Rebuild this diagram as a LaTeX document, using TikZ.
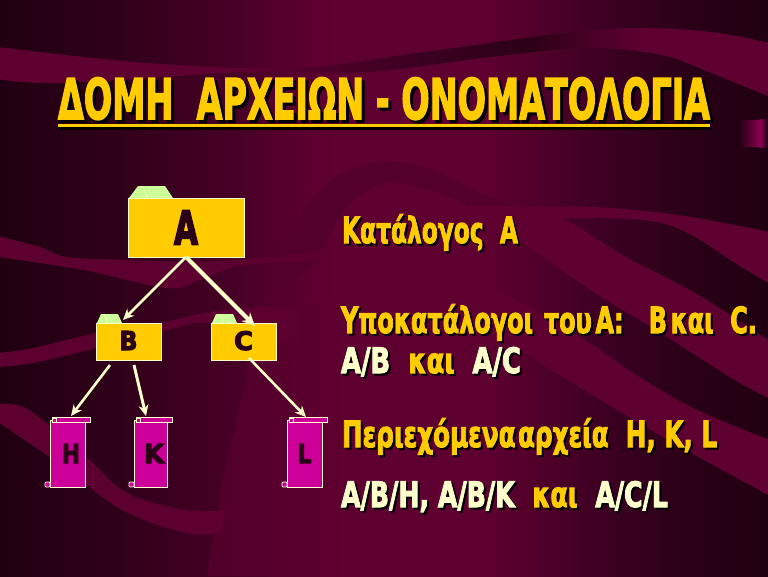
\documentclass[tikz,border=0pt]{standalone}
\usepackage{fontspec}
\usepackage{graphicx}
\usetikzlibrary{arrows.meta,calc}
\newfontfamily\hf[BoldFeatures={FakeBold=3}]{DejaVu Sans}
\newfontfamily\lf[BoldFeatures={FakeBold=4}]{DejaVu Sans}
\definecolor{bga}{HTML}{200010}
\definecolor{bgb}{HTML}{30001A}
\definecolor{bgc}{HTML}{480026}
\definecolor{bgd}{HTML}{5C002F}
\definecolor{bge}{HTML}{5E0030}
\definecolor{bgf}{HTML}{52002A}
\definecolor{bgg}{HTML}{380020}
\definecolor{bgh}{HTML}{280015}
\definecolor{bgi}{HTML}{2C0016}
\definecolor{bgj}{HTML}{4A0026}
\definecolor{arcc}{HTML}{54002C}
\definecolor{ytext}{HTML}{FFCC00}
\definecolor{cream}{HTML}{FFFFCC}
\definecolor{tabg}{HTML}{CCFF99}
\definecolor{scrollc}{HTML}{CC0099}
\definecolor{inkc}{HTML}{2A0016}
\definecolor{patch}{HTML}{8A0050}
\pgfdeclarehorizontalshading{bgshade}{100bp}{color(0bp)=(bga); color(25bp)=(bga); color(32.8bp)=(bgb); color(40.6bp)=(bgc); color(45.2bp)=(bgd); color(47.1bp)=(bge); color(56.5bp)=(bge); color(59.5bp)=(bgf); color(65.4bp)=(bgg); color(70.6bp)=(bgh); color(75bp)=(bga); color(100bp)=(bga)}
\pgfdeclarehorizontalshading{topband}{100bp}{color(0bp)=(bge); color(41.3bp)=(bge); color(47.1bp)=(bgj); color(53.6bp)=(bgg); color(59.5bp)=(bgi); color(63.4bp)=(bgc); color(66.7bp)=(bge); color(100bp)=(bge)}
\newcommand\Wh[1]{{\color{cream}#1}}
\newcommand\sht[3]{\rlap{\raisebox{-#2}{\kern#2\resizebox{#1}{\height}{\color{black}\let\Wh\relax\hf\bfseries #3}}}\resizebox{#1}{\height}{\hf\bfseries #3}}
\newcommand\lett[3]{\resizebox{#1}{#2}{\lf\bfseries #3}}
\tikzset{
  txt/.style={anchor=base west,inner sep=0pt,outer sep=0pt,text=ytext,font=\fontsize{36}{36}\selectfont},
  folder/.style={draw=cream,fill=ytext,line width=1pt,inner sep=0pt,outer sep=0pt,text=inkc},
  scrollbody/.style={draw=cream,fill=scrollc,line width=1pt,inner sep=0pt,outer sep=0pt,minimum height=67pt,text=inkc},
  scrollpart/.style={draw=cream,fill=scrollc,line width=.8pt},
  tabshape/.style={fill=tabg},
  tabline/.style={draw=cream,line width=.6pt},
  conn/.style={draw=cream,-{Stealth[length=11pt,width=10pt]},line width=2.6pt},
  band/.style={fill=bgd},
}
\newcommand\scrolldeco[1]{%
  \draw[scrollpart] ([shift={(2,-3)}]#1.north west) rectangle ([shift={(5,2)}]#1.north east);
  \draw[scrollpart] ([shift={(2,-2)}]#1.north west) rectangle ([shift={(6,2)}]#1.north west);
  \draw[scrollpart,rounded corners=1pt] ([shift={(-5,-5)}]#1.south west) rectangle (#1.south west);
}
\begin{document}
\begin{tikzpicture}[x=1pt,y=-1pt]
\useasboundingbox (0,0) rectangle (768,576);
\shade[shading=bgshade] (0,0) rectangle (768,576);
% light swoosh
\shade[left color=bgc!60!bgd,right color=bge] (207,576) -- (222,480) -- (247,377) -- (263,307) -- (345,300) -- (345,576) -- cycle;
% arc
\fill[arcc] plot[smooth,tension=.6] coordinates {(263,307)(280,250)(323,187)(373,163)(423,167)(480,193)(530,212)(561,218)} -- plot[smooth,tension=.6] coordinates {(473,210)(440,193)(387,183)(347,207)(317,260)} -- cycle;
% top band
\begin{scope}
\clip plot[smooth,tension=.6] coordinates {(-2,47)(147,63)(294,68)(417,53)(564,33)(637,28)(711,32)(770,43)} -- plot[smooth,tension=.6] coordinates {(770,97)(711,73)(662,55)(588,48)(490,57)(368,72)(245,72)(64,83)(-2,79)} -- cycle;
\shade[shading=topband] (0,0) rectangle (768,576);
\end{scope}
% left bands
\fill[band] plot[smooth,tension=.6] coordinates {(-2,236)(40,247)(67,257)(128,260)(200,262)(260,258)(330,250)} -- plot[smooth,tension=.6] coordinates {(330,262)(244,265)(200,280)(167,288)(83,270)(-2,257)} -- cycle;
\fill[band] plot[smooth,tension=.6] coordinates {(-2,353)(33,348)(97,333)(160,323)(210,312)(263,307)(300,312)} -- plot[smooth,tension=.6] coordinates {(300,346)(277,340)(210,323)(167,330)(97,348)(33,363)(-2,367)} -- cycle;
\fill[band] plot[smooth,tension=.6] coordinates {(-2,404)(29,410)(86,457)(127,493)(186,510)(225,510)} -- plot[smooth,tension=.6] coordinates {(222,532)(186,533)(122,510)(64,467)(-2,422)} -- cycle;
% right bands
\fill[bge] plot[smooth,tension=.6] coordinates {(470,205)(528,207)(595,207)(678,215)(770,232)} -- plot[smooth,tension=.6] coordinates {(770,284)(735,263)(695,237)(661,223)(611,218)(561,218)(470,215)} -- cycle;
\fill[bge] plot[smooth,tension=.6] coordinates {(470,205)(528,212)(561,218)(628,258)(695,293)(770,341)} -- plot[smooth,tension=.6] coordinates {(770,399)(728,376)(661,333)(595,293)(528,247)(470,215)} -- cycle;
\fill[bge] plot[smooth,tension=.6] coordinates {(480,280)(560,325)(600,350)(638,376)(695,409)(770,440)} -- plot[smooth,tension=.6] coordinates {(770,496)(661,436)(561,376)(528,355)(480,325)} -- cycle;
% right-edge patch
\shade[left color=bga,right color=patch] (738,120) rectangle (760,146);
\shade[left color=patch,right color=bgh] (760,119) rectangle (767,147);
% title
\node[txt,font=\fontsize{56}{56}\selectfont] (title) at (58,119) {\sht{652pt}{3pt}{ΔΟΜΗ~~ΑΡΧΕΙΩΝ - ΟΝΟΜΑΤΟΛΟΓΙΑ}};
\fill[black] (60,127) rectangle (712,130);
\fill[ytext] (58,124) rectangle (710,127);
% texts
\node[txt] (t1) at (342,243) {\sht{176pt}{2pt}{Κατάλογος~~Α}};
\node[txt] (t2) at (341,333) {\sht{416pt}{2pt}{Υποκατάλογοι\hspace{.45em}του\hspace{.15em}Α:~~~Β\hspace{.15em}και~~C.}};
\node[txt,font=\fontsize{35}{35}\selectfont] (t3) at (341,373) {\sht{180pt}{2pt}{\Wh{Α/Β}~~και~~\Wh{Α/C}}};
\node[txt] (t4) at (342,447) {\sht{375pt}{2pt}{Περιεχόμενα\hspace{.1em}αρχεία~~H, K, L}};
\node[txt,font=\fontsize{35}{35}\selectfont] (t5) at (341,507) {\sht{327pt}{2pt}{\Wh{A/B/H, A/B/K}~~και~~\Wh{A/C/L}}};
% folder tabs and folders
\node[folder,minimum width=116pt,minimum height=59pt] (A) at (186,227.5) {\raisebox{-5.5pt}{\lett{24pt}{34pt}{A}}};
\node[folder,minimum width=65pt,minimum height=37pt] (B) at (128.5,341.5) {\raisebox{2pt}{\lett{18pt}{19pt}{B}}};
\node[folder,minimum width=65pt,minimum height=37pt] (C) at (243.5,341.5) {\raisebox{2pt}{\lett{19pt}{19pt}{C}}};
\fill[tabshape] ([shift={(1,0)}]A.north west) -- ([shift={(10,-12)}]A.north west) -- ([shift={(37,-12)}]A.north west) -- ([shift={(45,0)}]A.north west) -- cycle;
\draw[tabline] ([shift={(14,-12)}]A.north west) -- ([shift={(20,0)}]A.north west);
\fill[tabshape] ([shift={(1,0)}]B.north west) -- ([shift={(5,-9)}]B.north west) -- ([shift={(22,-9)}]B.north west) -- ([shift={(26,0)}]B.north west) -- cycle;
\draw[tabline] ([shift={(8,-9)}]B.north west) -- ([shift={(12,0)}]B.north west);
\fill[tabshape] ([shift={(1,0)}]C.north west) -- ([shift={(5,-9)}]C.north west) -- ([shift={(22,-9)}]C.north west) -- ([shift={(26,0)}]C.north west) -- cycle;
\draw[tabline] ([shift={(8,-9)}]C.north west) -- ([shift={(12,0)}]C.north west);
% scrolls
\node[scrollbody,minimum width=35pt] (H) at (67.5,453.5) {\raisebox{-1pt}{\hspace{7pt}\lett{18pt}{19pt}{H}}};
\node[scrollbody,minimum width=33pt] (K) at (150.5,453.5) {\raisebox{-1pt}{\hspace{7pt}\lett{20pt}{19pt}{K}}};
\node[scrollbody,minimum width=35pt] (L) at (304.5,453.5) {\raisebox{-1pt}{\lett{14pt}{19pt}{L}}};
\scrolldeco{H}\scrolldeco{K}\scrolldeco{L}
% connectors
\draw[conn] (A.south) -- ([xshift=-5.5pt,yshift=3pt]B.north);
\draw[conn,line width=4.2pt,-{Stealth[length=13pt,width=12pt]}] (A.south) -- ([xshift=11.5pt,yshift=-3pt]C.north);
\draw[conn] ([xshift=-18.5pt,yshift=-5pt]B.south) -- ([xshift=3.5pt,yshift=4pt]H.north);
\draw[conn,line width=3pt] ([xshift=5.5pt,yshift=-5pt]B.south) -- ([xshift=-4.5pt,yshift=4pt]K.north);
\draw[conn] ([xshift=5.5pt,yshift=2pt]C.south) -- ([xshift=1.5pt,yshift=3pt]L.north);
\end{tikzpicture}
\end{document}
